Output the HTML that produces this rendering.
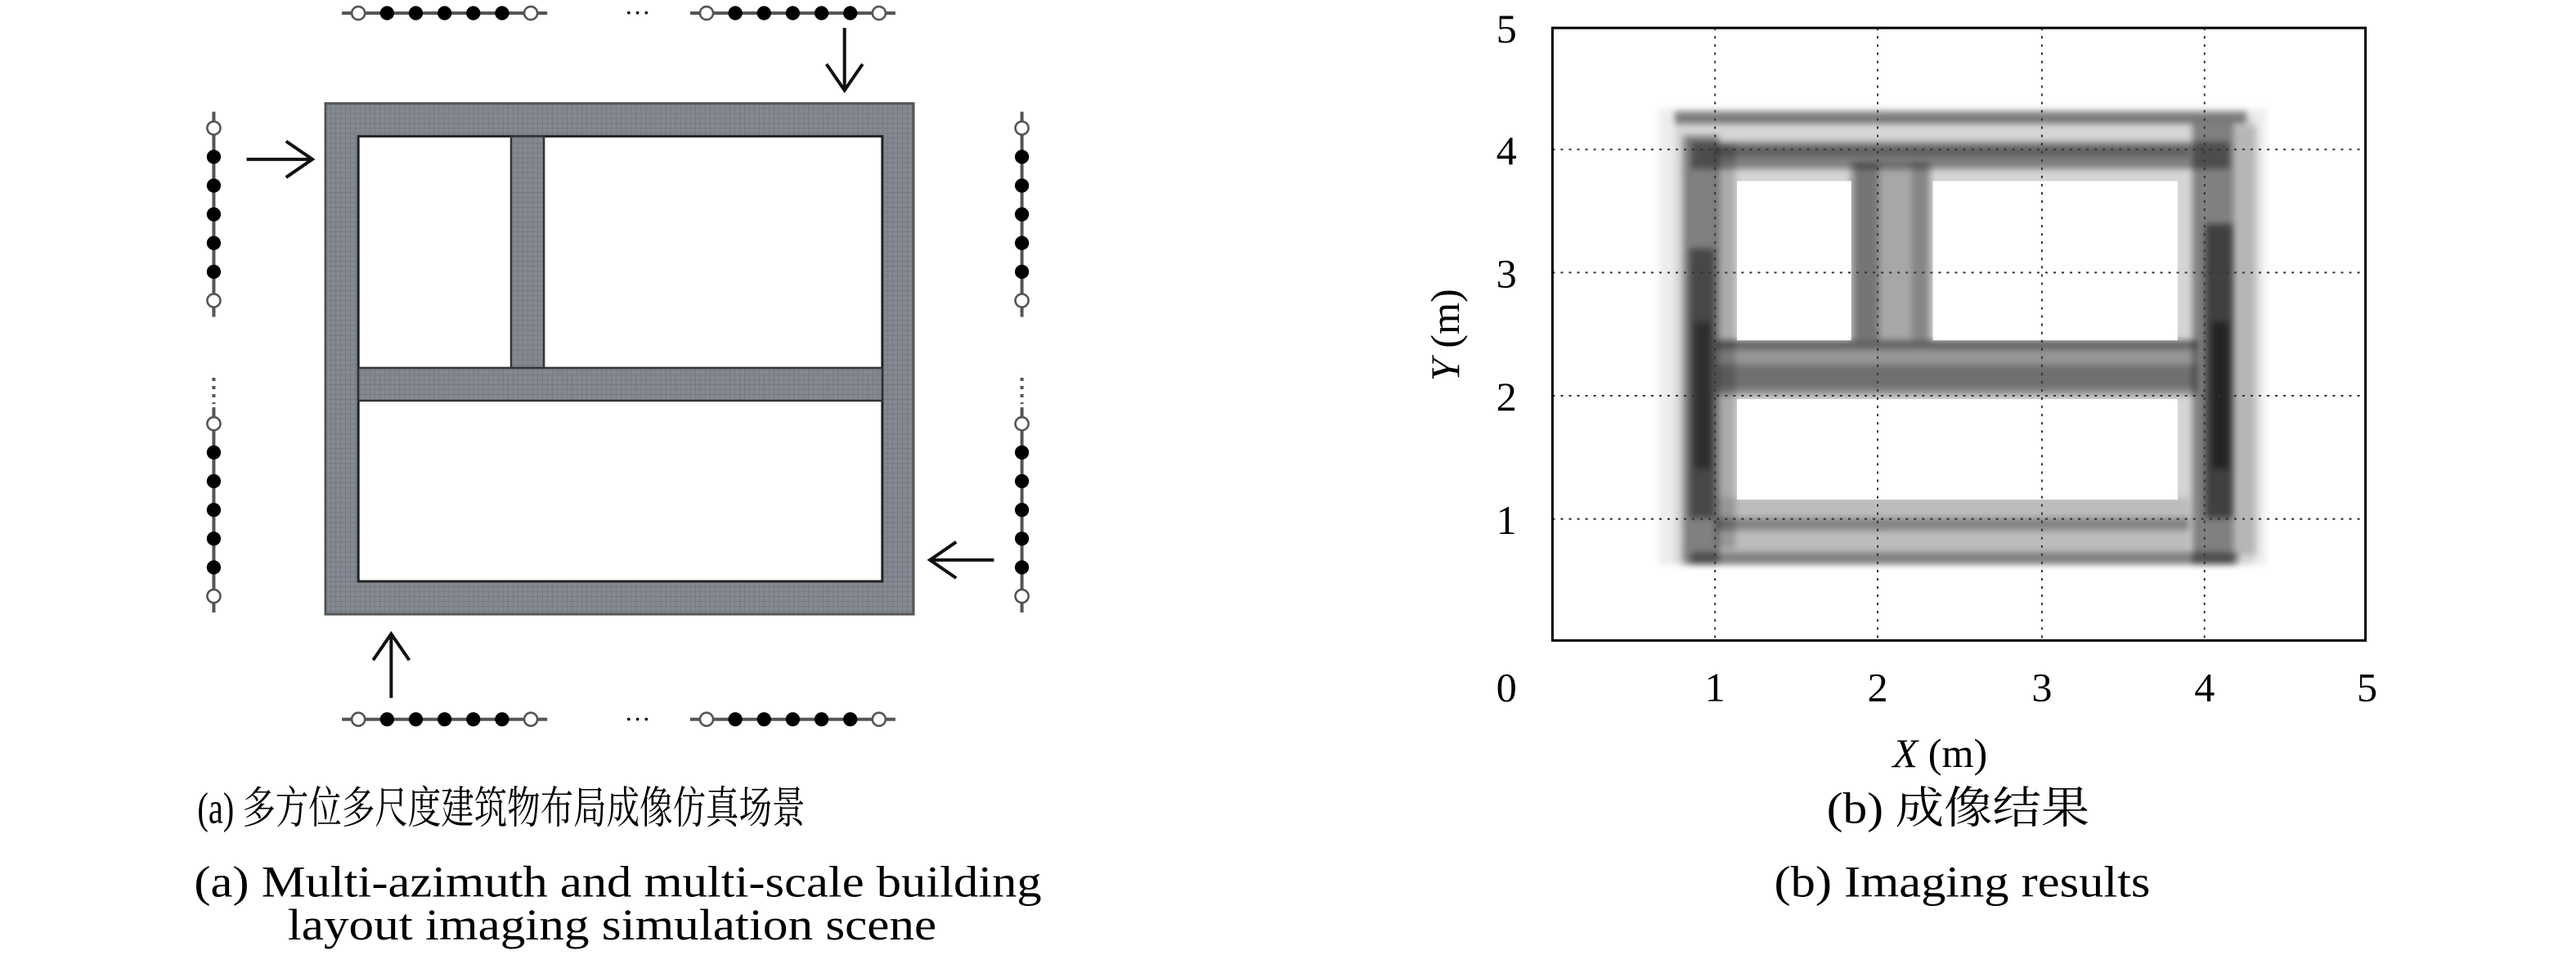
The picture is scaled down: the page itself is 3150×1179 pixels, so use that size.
<!DOCTYPE html>
<html><head><meta charset="utf-8"><style>
html,body{margin:0;padding:0;background:#fff;}
svg{display:block;}
text{font-family:"Liberation Serif","Noto Serif CJK SC","Noto Sans CJK SC",serif;fill:#000;}
</style></head><body>
<svg width="3150" height="1179" viewBox="0 0 1568 587" xmlns="http://www.w3.org/2000/svg">
<defs>
<g id="h">
<line x1="-10" y1="0" x2="115" y2="0" stroke="#555" stroke-width="2"/>
<circle cx="0" cy="0" r="4" fill="#fff" stroke="#555" stroke-width="1.3"/>
<circle cx="17.5" cy="0" r="4.3" fill="#000"/>
<circle cx="35" cy="0" r="4.3" fill="#000"/>
<circle cx="52.5" cy="0" r="4.3" fill="#000"/>
<circle cx="70" cy="0" r="4.3" fill="#000"/>
<circle cx="87.5" cy="0" r="4.3" fill="#000"/>
<circle cx="105" cy="0" r="4" fill="#fff" stroke="#555" stroke-width="1.3"/>
</g>
<pattern id="mesh" width="3" height="3" patternUnits="userSpaceOnUse">
<rect width="3" height="3" fill="#858992"/>
<path d="M0 0H3M0 0V3" stroke="#6c7078" stroke-width="0.6"/>
</pattern>
<filter id="bl" x="-0.1" y="-0.1" width="1.2" height="1.2"><feGaussianBlur stdDeviation="2"/></filter>
</defs>

<rect x="198" y="63" width="358" height="311" fill="url(#mesh)" stroke="#555" stroke-width="1.5"/>
<rect x="218" y="83" width="319" height="271" fill="#fff" stroke="#222" stroke-width="1.5"/>
<rect x="218" y="224" width="319" height="20" fill="url(#mesh)" stroke="#333" stroke-width="1.2"/>
<rect x="311" y="83" width="20" height="141" fill="url(#mesh)" stroke="#333" stroke-width="1.2"/>

<use href="#h" transform="translate(218,8)"/>
<use href="#h" transform="translate(430,8)"/>
<use href="#h" transform="translate(218,438)"/>
<use href="#h" transform="translate(430,438)"/>
<text x="380" y="13" font-size="16">···</text>
<text x="380" y="443" font-size="16">···</text>
<use href="#h" transform="translate(130,78) rotate(90)"/>
<use href="#h" transform="translate(130,258) rotate(90)"/>
<use href="#h" transform="translate(622,78) rotate(90)"/>
<use href="#h" transform="translate(622,258) rotate(90)"/>
<line x1="130" y1="230" x2="130" y2="246" stroke="#555" stroke-width="2" stroke-dasharray="2,3"/>
<line x1="622" y1="230" x2="622" y2="246" stroke="#555" stroke-width="2" stroke-dasharray="2,3"/>

<g stroke="#111" stroke-width="2" fill="none">
<path d="M150 97H190M174 86L190 97L174 108"/>
<path d="M605 341H566M582 330L566 341L582 352"/>
<path d="M514 17V55M503 39L514 55L525 39"/>
<path d="M238 425V386M227 402L238 386L249 402"/>
</g>

<g filter="url(#bl)">
<g transform="translate(945,390) scale(99.4,-74.6)">
<rect x="0.65" y="0.62" width="3.72" height="3.72" fill="#000" opacity="0.07"/>
<rect x="0.75" y="0.62" width="3.55" height="3.65" fill="#000" opacity="0.1"/>
<rect x="0.75" y="4.22" width="3.5" height="0.1" fill="#000" opacity="0.45"/>
<rect x="0.85" y="3.85" width="3.3" height="0.22" fill="#000" opacity="0.4"/>
<rect x="1.0" y="3.95" width="2.9" height="0.08" fill="#000" opacity="0.25"/>
<rect x="0.85" y="0.62" width="3.35" height="0.1" fill="#000" opacity="0.4"/>
<rect x="1.0" y="0.9" width="2.9" height="0.1" fill="#000" opacity="0.3"/>
<rect x="1.0" y="0.72" width="2.9" height="0.45" fill="#000" opacity="0.12"/>
<rect x="0.8" y="0.62" width="0.22" height="3.5" fill="#000" opacity="0.4"/>
<rect x="0.84" y="1.0" width="0.15" height="2.2" fill="#000" opacity="0.45"/>
<rect x="0.87" y="1.4" width="0.1" height="1.2" fill="#000" opacity="0.35"/>
<rect x="1.0" y="0.75" width="0.12" height="3.3" fill="#000" opacity="0.2"/>
<rect x="3.92" y="0.62" width="0.25" height="3.6" fill="#000" opacity="0.4"/>
<rect x="4.0" y="1.0" width="0.17" height="2.4" fill="#000" opacity="0.5"/>
<rect x="4.04" y="1.4" width="0.1" height="1.2" fill="#000" opacity="0.45"/>
<rect x="4.17" y="0.7" width="0.15" height="3.5" fill="#000" opacity="0.15"/>
<rect x="1.0" y="2.0" width="2.95" height="0.45" fill="#000" opacity="0.3"/>
<rect x="1.0" y="2.05" width="2.95" height="0.2" fill="#000" opacity="0.25"/>
<rect x="1.0" y="2.38" width="2.95" height="0.07" fill="#000" opacity="0.35"/>
<rect x="1.82" y="2.45" width="0.5" height="1.45" fill="#000" opacity="0.22"/>
<rect x="1.85" y="2.45" width="0.15" height="1.45" fill="#000" opacity="0.3"/>
<rect x="2.2" y="2.45" width="0.1" height="1.45" fill="#000" opacity="0.2"/>
</g>
</g>
<g transform="translate(945,390) scale(99.4,-74.6)">
<rect x="1.13" y="2.45" width="0.7" height="1.3" fill="#fff"/>
<rect x="2.33" y="2.45" width="1.5" height="1.3" fill="#fff"/>
<rect x="1.13" y="1.15" width="2.7" height="0.82" fill="#fff"/>
</g>
<g stroke="#333" stroke-width="1" stroke-dasharray="1.5,3.5">
<line x1="1044" y1="17" x2="1044" y2="390"/>
<line x1="1143" y1="17" x2="1143" y2="390"/>
<line x1="1243" y1="17" x2="1243" y2="390"/>
<line x1="1342" y1="17" x2="1342" y2="390"/>
<line x1="945" y1="91" x2="1440" y2="91"/>
<line x1="945" y1="166" x2="1440" y2="166"/>
<line x1="945" y1="241" x2="1440" y2="241"/>
<line x1="945" y1="316" x2="1440" y2="316"/>
</g>
<rect x="945" y="17" width="495" height="373" fill="none" stroke="#000" stroke-width="1.5"/>
<g font-size="25" text-anchor="middle">
<text x="917" y="26">5</text>
<text x="917" y="100">4</text>
<text x="917" y="175">3</text>
<text x="917" y="250">2</text>
<text x="917" y="325">1</text>
<text x="917" y="427">0</text>
<text x="1044" y="427">1</text>
<text x="1143" y="427">2</text>
<text x="1243" y="427">3</text>
<text x="1342" y="427">4</text>
<text x="1441" y="427">5</text>
<text x="1181" y="467"><tspan font-style="italic">X</tspan> (m)</text>
<text transform="translate(888,204) rotate(-90)"><tspan font-style="italic">Y</tspan> (m)</text>
</g>

<g font-size="27">
<text x="120" y="501" textLength="370" lengthAdjust="spacingAndGlyphs">(a) 多方位多尺度建筑物布局成像仿真场景</text>
<text x="118" y="546" textLength="516" lengthAdjust="spacingAndGlyphs">(a) Multi-azimuth and multi-scale building</text>
<text x="175" y="572" textLength="395" lengthAdjust="spacingAndGlyphs">layout imaging simulation scene</text>
<text x="1112" y="501" textLength="160" lengthAdjust="spacingAndGlyphs">(b) 成像结果</text>
<text x="1080" y="546" textLength="229" lengthAdjust="spacingAndGlyphs">(b) Imaging results</text>
</g>
</svg>
</body></html>
